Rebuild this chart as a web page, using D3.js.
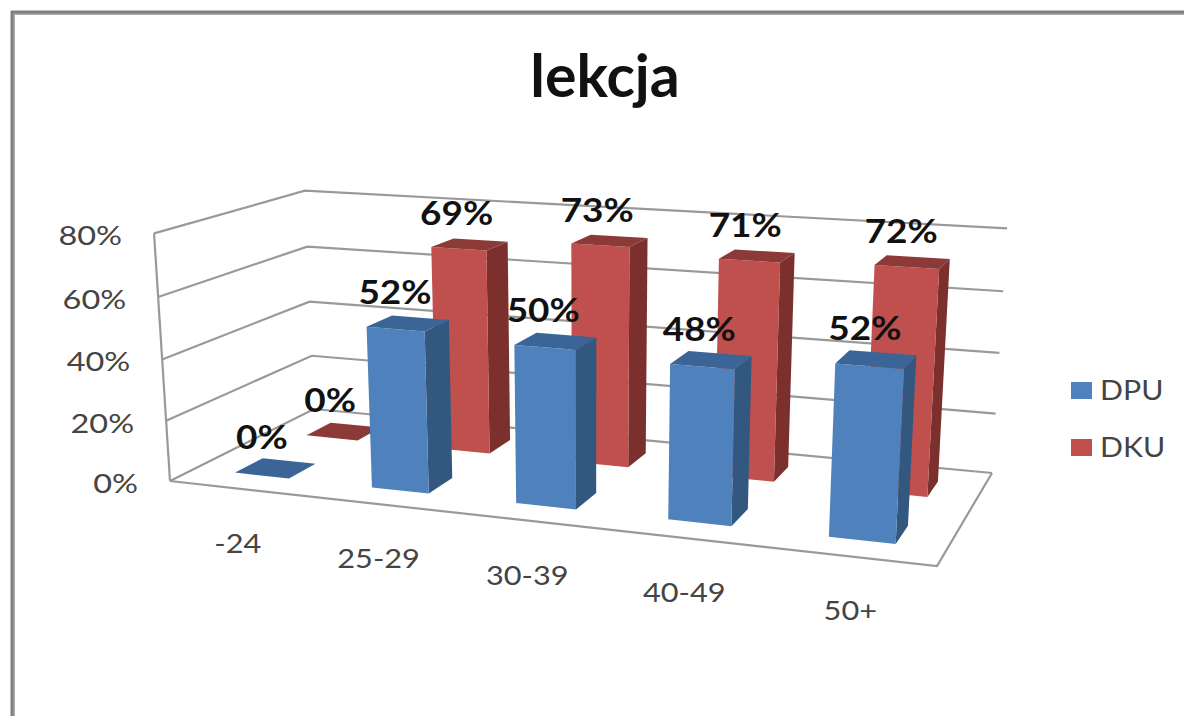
<!DOCTYPE html>
<html>
<head>
<meta charset="utf-8">
<title>lekcja</title>
<script src="https://cdnjs.cloudflare.com/ajax/libs/d3/7.8.5/d3.min.js"></script>
<style>
    body { margin: 0; background: #fff; }
    text { font-family: Lato, "Open Sans", sans-serif; }
</style>
</head>
<body>
<div id="chart"></div>
<script>
const categories = ["-24", "25-29", "30-39", "40-49", "50+"];
const seriesNames = ["DPU", "DKU"];
const dpuValues = [0, 52, 50, 48, 52];
const dkuValues = [0, 69, 73, 71, 72];
const yTicks = [0, 20, 40, 60, 80];

const width = 1184, height = 716;

const colors = {
    DPU: { front: "#4f81bd", side: "#32587f", top: "#3b6596" },
    DKU: { front: "#c0504d", side: "#7b302e", top: "#8c3a38" }
};

// floor corners, and the point the uprights of the box converge on
const floorQuad = [[170, 481], [937, 566], [992, 473], [314, 409]];
const verticalVanish = [590, 7000];
const heightPerspective = -0.0366;

// maps the unit square onto a quad with perspective, also returns the w term
function homography(q) {
    const [[x0, y0], [x1, y1], [x2, y2], [x3, y3]] = q;
    const sx = x0 - x1 + x2 - x3, sy = y0 - y1 + y2 - y3;
    const dx1 = x1 - x2, dy1 = y1 - y2, dx2 = x3 - x2, dy2 = y3 - y2;
    const det = dx1 * dy2 - dx2 * dy1;
    const g = (sx * dy2 - dx2 * sy) / det;
    const h = (dx1 * sy - sx * dy1) / det;
    return (u, v) => {
        const w = g * u + h * v + 1;
        return {
            w,
            x: ((x1 - x0 + g * x1) * u + (x3 - x0 + h * x3) * v + x0) / w,
            y: ((y1 - y0 + g * y1) * u + (y3 - y0 + h * y3) * v + y0) / w
        };
    };
}

const floorMap = homography(floorQuad);

const xBand = d3.scaleBand().domain(categories).range([0, 1]);
const depthBand = d3.scaleBand().domain(seriesNames).range([0, 1]);
const yScale = d3.scaleLinear().domain([0, 80]).range([0, 1]);

const barWidth = xBand.step() * 0.4;
const barDepth = depthBand.step() * 0.37;

function project(u, v, value) {
    const p = floorMap(u, v);
    const k = heightPerspective * yScale(value);
    const f = k / (p.w + k);
    return [p.x + (verticalVanish[0] - p.x) * f, p.y + (verticalVanish[1] - p.y) * f];
}

const line = d3.line();

// Calibri-like text runs wider than Lato, so labels get stretched a bit
function placeText(sel, x, y, stretch) {
    return sel
        .attr("transform", (d, i) => `translate(${x(d, i)},${y(d, i)}) scale(${stretch},1)`);
}

const svg = d3.select("#chart").append("svg")
    .attr("width", width)
    .attr("height", height)
    .style("display", "block");

// window frame, open on the right and at the bottom
svg.append("path")
    .attr("d", `M14,${height}V14H${width}`)
    .attr("fill", "none")
    .attr("stroke", "#ababab")
    .attr("stroke-width", 2);
svg.append("path")
    .attr("d", `M12,${height}V12H${width}`)
    .attr("fill", "none")
    .attr("stroke", "#808080")
    .attr("stroke-width", 3);

svg.append("text")
    .attr("x", 605)
    .attr("y", 97)
    .attr("text-anchor", "middle")
    .attr("font-size", 59)
    .attr("font-weight", 700)
    .attr("fill", "#111")
    .text("lekcja");

// walls and floor
const grid = svg.append("g")
    .attr("fill", "none")
    .attr("stroke", "#999")
    .attr("stroke-width", 2.2);

yTicks.forEach(t => {
    grid.append("path").attr("d", line([project(0, 0, t), project(0, 1, t), project(1, 1, t)]));
});
grid.append("path").attr("d", line([project(0, 0, 0), project(0, 0, 80)]));
grid.append("path").attr("d", line([project(0, 0, 0), project(1, 0, 0), project(1, 1, 0)]));

svg.append("g").selectAll("text")
    .data(yTicks)
    .join("text")
    .call(placeText, d => project(0, 0, d)[0] - 32, d => project(0, 0, d)[1] + 12, 1.2)
    .attr("text-anchor", "end")
    .attr("font-size", 27)
    .attr("fill", "#444")
    .text(d => d + "%");

svg.append("g").selectAll("text")
    .data(categories)
    .join("text")
    .call(placeText,
        d => project(xBand(d) + xBand.step() / 2, 0, 0)[0],
        d => project(xBand(d) + xBand.step() / 2, 0, 0)[1] + 64, 1.18)
    .attr("text-anchor", "middle")
    .attr("font-size", 26)
    .attr("fill", "#444")
    .text(d => d);

function bar(category, name, value) {
    const u0 = xBand(category) + (xBand.step() - barWidth) / 2, u1 = u0 + barWidth;
    const v0 = depthBand(name) + (depthBand.step() - barDepth) / 2, v1 = v0 + barDepth;
    return { u0, u1, v0, v1, value, name, category };
}

const dkuBars = categories.map((c, i) => bar(c, "DKU", dkuValues[i]));
const dpuBars = categories.map((c, i) => bar(c, "DPU", dpuValues[i]));

// back row first so the front row covers it
[...dkuBars, ...dpuBars].forEach(b => {
    const c = colors[b.name];
    const g = svg.append("g");
    if (b.value > 0) {
        g.append("path").attr("fill", c.side).attr("d", line([
            project(b.u1, b.v0, 0), project(b.u1, b.v1, 0),
            project(b.u1, b.v1, b.value), project(b.u1, b.v0, b.value)
        ]) + "Z");
        g.append("path").attr("fill", c.front).attr("d", line([
            project(b.u0, b.v0, 0), project(b.u1, b.v0, 0),
            project(b.u1, b.v0, b.value), project(b.u0, b.v0, b.value)
        ]) + "Z");
    }
    g.append("path").attr("fill", c.top).attr("d", line([
        project(b.u0, b.v0, b.value), project(b.u1, b.v0, b.value),
        project(b.u1, b.v1, b.value), project(b.u0, b.v1, b.value)
    ]) + "Z");
});

// value labels sit above the top face, a little to its left
const labelShift = d3.scaleLinear().domain([0, 1]).range([-14, -11]);

svg.append("g").selectAll("text")
    .data([...dpuBars, ...dkuBars])
    .join("text")
    .call(placeText,
        d => {
            const um = (d.u0 + d.u1) / 2;
            return project(um, (d.v0 + d.v1) / 2, d.value)[0] + labelShift(um);
        },
        d => project((d.u0 + d.u1) / 2, (d.v0 + d.v1) / 2, d.value)[1] - 19, 1.12)
    .attr("text-anchor", "middle")
    .attr("font-size", 33)
    .attr("font-weight", 700)
    .attr("fill", "#111")
    .text(d => d.value + "%");

// legend
const legend = svg.append("g").selectAll("g")
    .data(seriesNames)
    .join("g")
    .attr("transform", (d, i) => `translate(1071,${382 + i * 57})`);

legend.append("rect")
    .attr("width", 21)
    .attr("height", 17)
    .attr("fill", d => colors[d].front);

legend.append("text")
    .call(placeText, () => 29, () => 18, 1.12)
    .attr("font-size", 27)
    .attr("fill", "#444")
    .text(d => d);
</script>
</body>
</html>
